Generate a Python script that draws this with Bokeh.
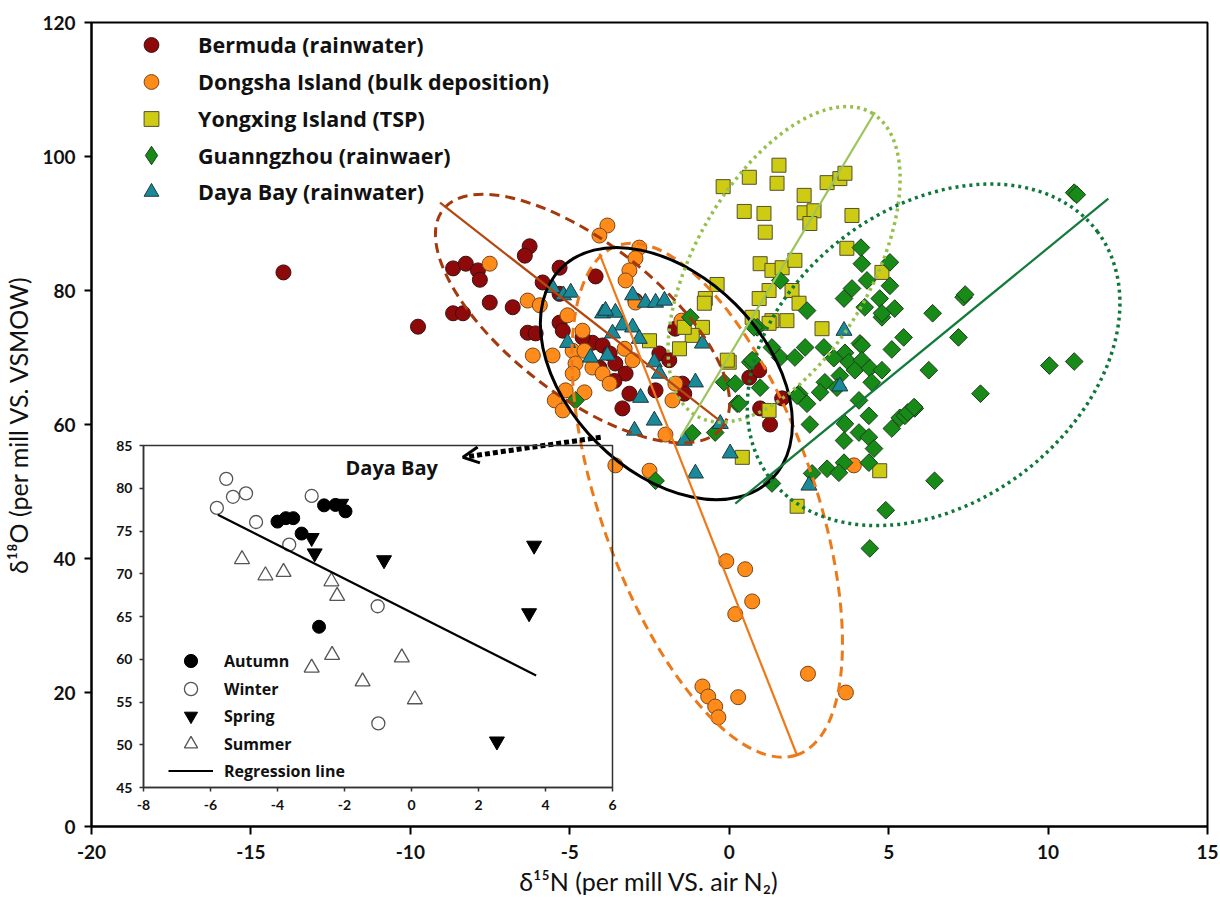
import numpy as np
from bokeh.plotting import figure
from bokeh.models import (Range1d, FixedTicker, Legend, LegendItem, Arrow, OpenHead, GridBox)
from bokeh.core.properties import value
from bokeh.embed import file_html
from bokeh.resources import INLINE

# ---------------- data (main panel): (d15N, d18O) ----------------
BERMUDA = [(-13.98, 82.7), (-9.76, 74.6), (-8.66, 83.3), (-8.26, 84.0), (-7.88, 83.0), (-7.82, 81.6),
           (-6.26, 86.6), (-6.41, 85.2), (-8.66, 76.6), (-8.35, 76.6), (-7.51, 78.2), (-6.79, 77.5),
           (-5.85, 81.2), (-5.32, 83.4), (-5.32, 79.5), (-6.32, 73.7), (-6.07, 73.6), (-4.19, 82.1),
           (-5.32, 75.2), (-5.22, 74.0), (-4.29, 72.2), (-3.97, 71.8), (-3.75, 70.6), (-3.57, 69.1),
           (-3.25, 67.6), (-4.07, 68.5), (-3.35, 62.4), (-2.19, 70.6), (-3.13, 64.6), (-2.31, 65.1),
           (-1.47, 66.1), (-1.41, 64.6), (-1.88, 69.6), (-1.69, 74.3), (-2.94, 78.5), (0.63, 67.0),
           (0.94, 68.1), (0.97, 62.4), (1.28, 60.0), (1.66, 63.9), (-4.6, 73.0), (-3.6, 66.5)]
DONGSHA = [(-3.82, 89.7), (-4.07, 88.2), (-2.82, 86.4), (-2.94, 84.8), (-3.13, 83.0), (-3.25, 81.5),
           (-7.51, 84.0), (-6.32, 78.5), (-5.94, 77.8), (-5.07, 76.3), (-4.60, 74.0), (-6.16, 70.3),
           (-5.54, 70.3), (-4.91, 71.0), (-4.54, 71.0), (-4.82, 69.1), (-4.91, 67.6), (-4.29, 68.5),
           (-3.97, 67.6), (-3.75, 66.1), (-5.13, 65.1), (-4.54, 64.8), (-5.47, 63.6), (-5.22, 62.1),
           (-3.28, 71.3), (-3.03, 69.6), (-1.78, 63.6), (-1.69, 66.1), (-3.57, 53.9), (-2.50, 53.1),
           (3.91, 53.9), (-0.09, 39.6), (0.50, 38.4), (0.72, 33.6), (0.19, 31.7), (-0.84, 20.9),
           (-0.66, 19.4), (-0.44, 17.9), (-0.34, 16.3), (0.28, 19.3), (2.47, 22.8), (3.66, 20.0),
           (-1.5, 75.5), (-2.0, 58.5), (-2.94, 78.2)]
YONGXING = [(-0.19, 95.5), (0.63, 96.9), (1.56, 98.7), (1.50, 96.0), (0.47, 91.8), (1.09, 91.5),
            (1.13, 88.7), (2.35, 94.2), (2.35, 91.6), (2.66, 91.9), (2.53, 90.0), (3.07, 96.1),
            (3.47, 96.7), (3.63, 97.5), (3.85, 91.2), (0.97, 84.0), (1.34, 83.0), (1.66, 83.4),
            (2.06, 84.5), (1.25, 80.0), (0.94, 78.8), (1.97, 80.0), (2.19, 78.1), (-0.38, 80.9),
            (-0.75, 78.8), (-0.78, 78.1), (1.34, 75.5), (1.81, 75.5), (2.91, 74.3), (3.69, 86.3),
            (4.79, 82.7), (-0.84, 74.5), (-1.16, 73.3), (-1.56, 71.3), (-1.41, 74.5), (-2.50, 72.5),
            (0.72, 76.0), (0.0, 69.3), (1.25, 62.1), (0.41, 55.1), (4.72, 53.1), (2.13, 47.8),
            (-0.06, 69.6), (1.25, 75.1)]
GUANGZHOU = [(10.82, 94.6), (10.9, 94.3), (7.35, 79.0), (7.4, 79.4), (6.38, 76.6), (7.19, 73.0),
             (5.47, 73.0), (5.10, 71.2), (6.26, 68.1), (10.04, 68.8), (10.82, 69.4), (7.88, 64.6),
             (5.82, 62.4), (5.35, 61.0), (5.10, 59.4), (6.44, 51.6), (4.91, 47.2), (5.04, 84.2),
             (5.04, 80.7), (5.19, 77.3), (4.79, 76.0), (4.13, 86.4), (4.16, 84.0), (4.32, 81.5),
             (3.85, 80.3), (3.60, 78.8), (4.25, 77.5), (4.72, 78.8), (4.79, 76.6), (1.60, 81.5),
             (-1.22, 76.0), (2.44, 77.0), (2.38, 71.5), (2.97, 71.5), (4.10, 72.1), (0.88, 74.5),
             (3.63, 70.7), (4.16, 71.8), (3.28, 69.9), (3.75, 69.3), (4.16, 69.6), (3.94, 68.1),
             (4.41, 68.4), (4.79, 68.1), (3.47, 67.3), (3.00, 66.3), (2.85, 64.8), (4.47, 66.3),
             (3.38, 65.5), (2.19, 64.6), (2.44, 63.1), (4.07, 63.6), (4.38, 61.3), (2.53, 60.0),
             (3.63, 60.1), (4.07, 58.8), (4.38, 58.1), (4.54, 56.4), (3.60, 57.6), (3.60, 54.3),
             (3.07, 53.4), (3.44, 52.8), (4.38, 54.3), (2.60, 52.7), (1.34, 51.2), (5.51, 61.3),
             (4.41, 41.5), (0.97, 65.5), (0.25, 63.1), (-0.16, 66.3), (0.66, 69.3), (1.34, 71.5),
             (1.60, 70.0), (0.78, 74.5), (-0.44, 58.8), (2.13, 64.3), (-4.82, 63.6), (-2.31, 51.6),
             (-1.16, 58.7), (0.19, 66.1), (0.31, 63.1), (0.72, 69.6), (2.06, 70.0), (5.6, 61.8),
             (5.8, 62.6)]
DAYA_BAY = [(-5.54, 80.4), (-5.2, 79.3), (-4.97, 79.7), (-3.03, 79.3), (-2.63, 78.2), (-2.31, 78.2),
            (-2.03, 78.5), (-3.97, 76.6), (-3.57, 76.7), (-3.35, 74.8), (-3.03, 74.5), (-3.66, 73.6),
            (-2.82, 72.8), (-5.07, 72.2), (-4.35, 70.0), (-3.82, 70.3), (-2.35, 69.3), (-2.19, 67.6),
            (-2.78, 64.0), (-1.06, 66.3), (-2.35, 60.6), (-2.97, 59.1), (-0.84, 72.1), (-1.41, 57.6),
            (-1.06, 52.7), (-0.28, 60.1), (0.03, 55.7), (3.60, 74.0), (3.47, 65.7), (2.50, 50.9),
            (-3.88, 77.0)]

# regression lines (end points) for each group
BERMUDA_FIT = [(-9.07, 93.1), (-0.31, 60.6)]
DONGSHA_FIT = [(-4.07, 85.5), (2.13, 10.6)]
YONGXING_FIT = [(-1.53, 58.1), (4.57, 106.6)]
GUANGZHOU_FIT = [(0.19, 48.2), (11.89, 93.7)]

# confidence ellipses: centre (data), axes lengths (px), rotation (deg)
ELL_CENTER_X = [-4.6, -0.69, -1.97, 1.72, 6.41]
ELL_CENTER_Y = [75.8, 48.7, 67.6, 83.9, 70.4]
ELL_W = [354, 540, 298, 350, 410]
ELL_H = [152, 214, 196, 176, 296]
ELL_ANGLE = [-38, -70.5, -45, 60, 37]

SERIES_LABELS = ["Bermuda (rainwater)", "Dongsha Island (bulk deposition)", "Yongxing Island (TSP)",
                 "Guanngzhou (rainwaer)", "Daya Bay (rainwater)"]
X_TICKS = [-20, -15, -10, -5, 0, 5, 10, 15]
Y_TICKS = [0, 20, 40, 60, 80, 100, 120]
X_LABEL = "\u03b4\u00b9\u2075N (per mill VS. air N\u2082)"
Y_LABEL = "\u03b4\u00b9\u2078O (per mill VS. VSMOW)"

# ---------------- inset (Daya Bay by season) ----------------
AUTUMN = [(-4.0, 76.1), (-3.75, 76.5), (-3.53, 76.5), (-3.28, 74.7), (-2.61, 78.0), (-2.27, 78.05),
          (-1.97, 77.3), (-2.76, 63.8)]
WINTER = [(-5.53, 81.1), (-5.33, 79.0), (-4.94, 79.4), (-5.81, 77.7), (-4.64, 76.05), (-3.65, 73.4),
          (-2.98, 79.1), (-1.01, 66.2), (-0.99, 52.5)]
SPRING = [(-2.98, 74.2), (-2.89, 72.4), (-2.1, 78.2), (-0.82, 71.6), (3.66, 73.3), (3.51, 65.4),
          (2.55, 50.4)]
SUMMER = [(-5.06, 71.7), (-4.36, 69.8), (-3.82, 70.2), (-2.39, 69.1), (-2.22, 67.4), (-2.37, 60.5),
          (-2.98, 59.0), (-0.29, 60.2), (-1.46, 57.4), (0.10, 55.3)]
INSET_FIT = [(-5.78, 76.9), (3.72, 58.1)]
INSET_X_TICKS = [-8, -6, -4, -2, 0, 2, 4, 6]
INSET_Y_TICKS = [45, 50, 55, 60, 65, 70, 75, 80, 85]
INSET_LABELS = ["Autumn", "Winter", "Spring", "Summer", "Regression line"]
INSET_TITLE = "Daya Bay"
INSET_TITLE_POS = (-0.59, 82.4)

# arrow from the Daya Bay ellipse to the inset (data coords of main panel)
ARROW_START = (-4.03, 58.1)
ARROW_END = (-8.35, 55.1)


def xs(pts):
    return [p[0] for p in pts]


def ys(pts):
    return [p[1] for p in pts]


NAN = [float("nan")]
TICK_FONT = "Lato"
TITLE_FONT = "Lato"
LEGEND_FONT = "Open Sans"

# ---------------- main figure ----------------
p = figure(width=1220, height=902, x_range=Range1d(-20, 15), y_range=Range1d(0, 120),
           output_backend="svg", toolbar_location=None,
           min_border_left=88, min_border_right=13, min_border_top=22, min_border_bottom=76)
p.grid.visible = False
p.background_fill_color = "white"
p.border_fill_color = "white"
p.outline_line_color = "black"
p.outline_line_width = 2

p.xaxis.ticker = FixedTicker(ticks=X_TICKS)
p.yaxis.ticker = FixedTicker(ticks=Y_TICKS)
p.xaxis.major_label_overrides = {t: str(t) for t in X_TICKS}
p.yaxis.major_label_overrides = {t: str(t) for t in Y_TICKS}
for ax in (p.xaxis[0], p.yaxis[0]):
    ax.axis_line_width = 2
    ax.axis_line_color = "black"
    ax.major_tick_line_width = 2
    ax.major_tick_in = 0
    ax.minor_tick_line_color = None
    ax.major_label_text_font = TICK_FONT
    ax.major_label_text_font_style = "bold"
    ax.major_label_text_font_size = "19px"
    ax.major_label_text_color = "#111111"
    ax.axis_label_text_font = TITLE_FONT
    ax.axis_label_text_font_style = "normal"
    ax.axis_label_text_font_size = "25px"
    ax.axis_label_text_color = "#111111"
p.xaxis.major_tick_out = 8
p.yaxis.major_tick_out = 7
p.xaxis.major_label_standoff = 10
p.yaxis.major_label_standoff = 9
p.xaxis.axis_label = X_LABEL
p.yaxis.axis_label = Y_LABEL
p.xaxis.axis_label_standoff = 4
p.yaxis.axis_label_standoff = 6

r_b = p.scatter(xs(BERMUDA), ys(BERMUDA), marker="circle", size=15, fill_color="#8E0A0A",
                line_color="#3a1010", line_width=1)
r_d = p.scatter(xs(DONGSHA), ys(DONGSHA), marker="circle", size=15, fill_color="#FF8C1A",
                line_color="#7a4515", line_width=1)
r_y = p.scatter(xs(YONGXING), ys(YONGXING), marker="square", size=14, fill_color="#CDCB14",
                line_color="#55502a", line_width=1)
r_g = p.scatter(xs(GUANGZHOU), ys(GUANGZHOU), marker="square", angle=np.pi / 4, size=12.5,
                fill_color="#178A17", line_color="#1d3d1d", line_width=1)
r_t = p.scatter(xs(DAYA_BAY), ys(DAYA_BAY), marker="triangle", size=16, fill_color="#1A8A98",
                line_color="#1d3a40", line_width=1)
# legend-only glyph for the diamond symbol (no data drawn)
r_g_leg = p.scatter(NAN, NAN, marker="diamond", size=18, fill_color="#178A17",
                    line_color="#1d3d1d", line_width=1)

ELL_COLORS = ["#A3390D", "#EC7A1A", "#000000", "#96C04E", "#0F773A"]
ELL_DASH = ["10 6", "10 6", "solid", "3 4", "3 4"]
ELL_LW = [3, 3, 3, 3.5, 3.5]
for i in range(5):
    p.ellipse(x=[ELL_CENTER_X[i]], y=[ELL_CENTER_Y[i]], width=[ELL_W[i]], height=[ELL_H[i]],
              angle=[np.deg2rad(ELL_ANGLE[i])], width_units="screen", height_units="screen",
              fill_alpha=0, line_color=ELL_COLORS[i], line_width=ELL_LW[i], line_dash=ELL_DASH[i])

for fit, col in ((BERMUDA_FIT, "#B4470F"), (DONGSHA_FIT, "#EC7A1A"),
                 (YONGXING_FIT, "#9CC45C"), (GUANGZHOU_FIT, "#137A3A")):
    p.line(xs(fit), ys(fit), line_color=col, line_width=2.2)

p.add_layout(Arrow(end=OpenHead(size=16, line_width=3, line_color="black"),
                   x_start=ARROW_START[0], y_start=ARROW_START[1],
                   x_end=ARROW_END[0], y_end=ARROW_END[1],
                   line_width=5, line_dash="5 3", line_color="black"))

leg_kw = dict(glyph_width=90, spacing=0, label_standoff=2, padding=0, margin=0,
              label_text_font=LEGEND_FONT, label_text_font_style="bold",
              label_text_font_size="21.5px", label_text_color="#111111",
              border_line_alpha=0, background_fill_alpha=0)
main_renderers = [r_b, r_d, r_y, r_g_leg, r_t]
# legend split in three stacked blocks so the diamond entry can get a larger symbol
leg_a = Legend(items=[LegendItem(label=SERIES_LABELS[i], renderers=[main_renderers[i]]) for i in (0, 1, 2)],
               location=(15, 689), glyph_height=37, **leg_kw)
leg_b = Legend(items=[LegendItem(label=SERIES_LABELS[3], renderers=[main_renderers[3]])],
               location=(15, 648), glyph_height=46, **leg_kw)
leg_c = Legend(items=[LegendItem(label=SERIES_LABELS[4], renderers=[main_renderers[4]])],
               location=(15, 616), glyph_height=37, **leg_kw)
for lg in (leg_a, leg_b, leg_c):
    p.add_layout(lg)

# ---------------- inset figure ----------------
# same borders as the main figure (grid aligns the frames); frame = 472 x 342 px
q = figure(width=88 + 472 + 13, height=22 + 342 + 76, x_range=Range1d(-8, 6), y_range=Range1d(45, 85),
           output_backend="svg", toolbar_location=None,
           min_border_left=88, min_border_right=13, min_border_top=22, min_border_bottom=76)
q.margin = (423, 0, 0, 52)
q.grid.visible = False
q.background_fill_alpha = 0
q.border_fill_alpha = 0
q.outline_line_color = "#333333"
q.outline_line_width = 1.5
q.xaxis.ticker = FixedTicker(ticks=INSET_X_TICKS)
q.yaxis.ticker = FixedTicker(ticks=INSET_Y_TICKS)
q.xaxis.major_label_overrides = {t: str(t) for t in INSET_X_TICKS}
for ax in (q.xaxis[0], q.yaxis[0]):
    ax.axis_line_width = 1.5
    ax.axis_line_color = "#333333"
    ax.major_tick_line_width = 1.5
    ax.major_tick_line_color = "#333333"
    ax.major_tick_in = 0
    ax.major_tick_out = 4
    ax.minor_tick_line_color = None
    ax.major_label_text_font = TICK_FONT
    ax.major_label_text_font_style = "bold"
    ax.major_label_text_font_size = "14px"
    ax.major_label_text_color = "#111111"
q.xaxis.major_label_standoff = 8
q.yaxis.major_label_standoff = 7

ra = q.scatter(xs(AUTUMN), ys(AUTUMN), marker="circle", size=13, fill_color="black", line_color="black")
rw = q.scatter(xs(WINTER), ys(WINTER), marker="circle", size=13, fill_color="white",
               line_color="#555555", line_width=1.3)
rs = q.scatter(xs(SPRING), ys(SPRING), marker="inverted_triangle", size=15, fill_color="black",
               line_color="black")
ru = q.scatter(xs(SUMMER), ys(SUMMER), marker="triangle", size=15, fill_color="white",
               line_color="#555555", line_width=1.3)
rl = q.line(xs(INSET_FIT), ys(INSET_FIT), line_color="black", line_width=2.2)
q.text(x=[INSET_TITLE_POS[0]], y=[INSET_TITLE_POS[1]], text=[INSET_TITLE],
       text_font=value(LEGEND_FONT), text_font_style="bold", text_font_size="20px",
       text_align="center", text_baseline="middle", text_color="#111111")

ileg_kw = dict(glyph_width=45, glyph_height=33, spacing=22, label_standoff=11, padding=0, margin=0,
               label_text_font=LEGEND_FONT, label_text_font_style="bold",
               label_text_font_size="16px", label_text_color="#111111",
               border_line_alpha=0, background_fill_alpha=0)
inset_renderers = [ra, rw, rs, ru, rl]
# two interleaved columns of entries give the tight row pitch of the original
ileg_a = Legend(items=[LegendItem(label=INSET_LABELS[i], renderers=[inset_renderers[i]]) for i in (0, 2, 4)],
                location=(25, 0), **ileg_kw)
ileg_b = Legend(items=[LegendItem(label=INSET_LABELS[i], renderers=[inset_renderers[i]]) for i in (1, 3)],
                location=(25, 27), **ileg_kw)
q.add_layout(ileg_a)
q.add_layout(ileg_b)

layout = GridBox(children=[(p, 0, 0), (q, 0, 0)])

open("out.html", "w").write(file_html(layout, INLINE))
